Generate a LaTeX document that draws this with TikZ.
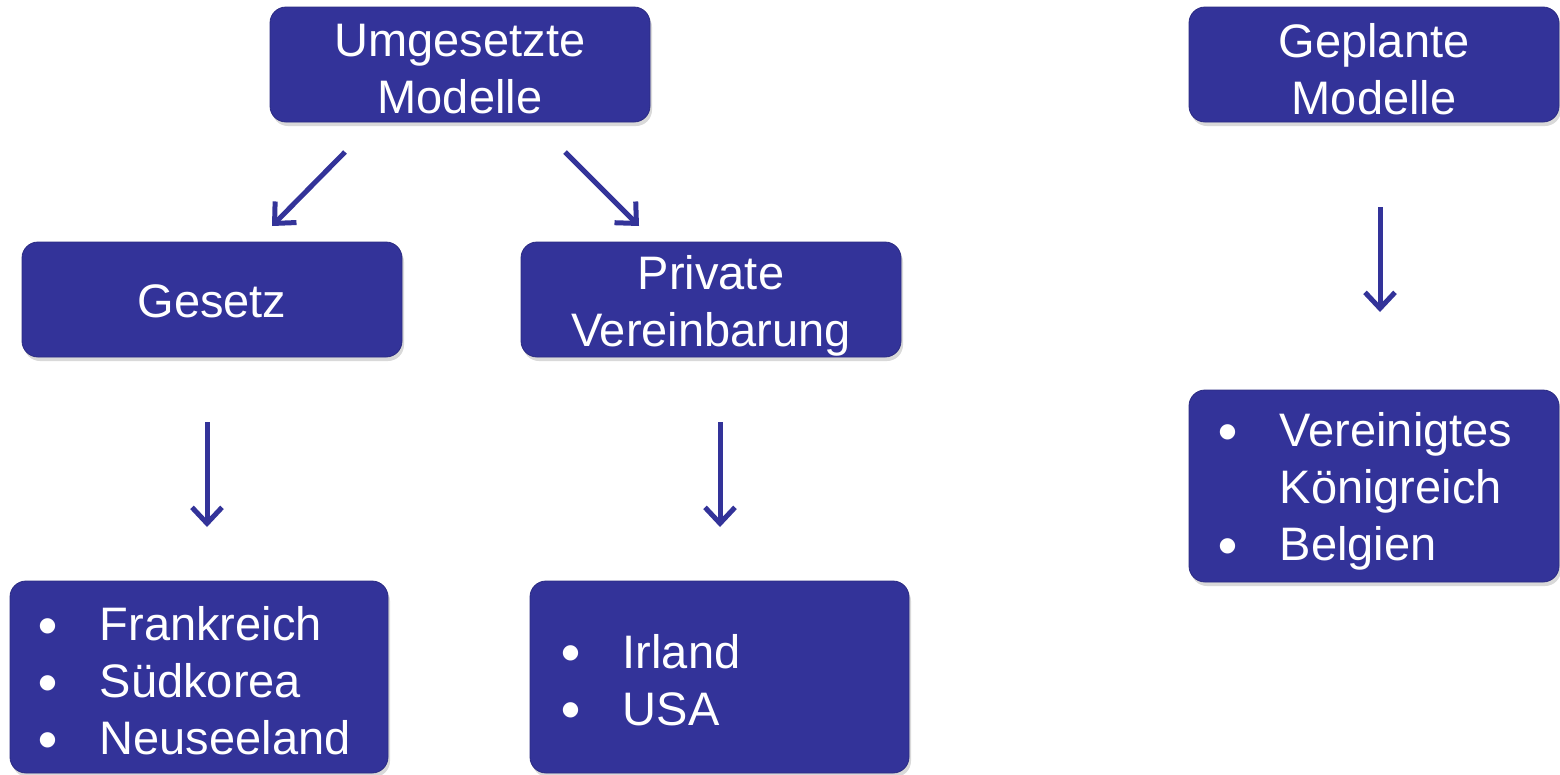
\documentclass[tikz,border=0pt]{standalone}
\usepackage{fontspec}
\setmainfont{Liberation Sans}
\newfontfamily\symf{DejaVu Sans}
\usetikzlibrary{arrows.meta,shadows,calc}
\definecolor{boxblue}{RGB}{51,51,153}
\newcommand{\bul}{\makebox[61pt][l]{\raisebox{9.5pt}{\symf\fontsize{20}{20}\selectfont ●}}}
\begin{document}
\begin{tikzpicture}[x=1pt,y=-1pt,
  box/.style={draw=boxblue!85!black, line width=0.8pt, fill=boxblue, rounded corners=16pt,
    inner sep=0pt,
    drop shadow={opacity=0.3, shadow xshift=2pt, shadow yshift=-4pt}},
  boxtext/.style={text=white, font=\fontsize{47}{57}\selectfont, inner sep=0pt},
  titletext/.style={boxtext, align=center},
  listtext/.style={boxtext, align=left, anchor=west},
  conn/.style={draw=boxblue, line width=5pt, -{Straight Barb[length=16pt,width=30pt]}}]
\useasboundingbox (0,0) rectangle (1560,774);
% boxes
\node[box, minimum width=380pt, minimum height=115pt] (um) at (460,64.5) {};
\node[box, minimum width=370pt, minimum height=115pt] (gep) at (1374,64.5) {};
\node[box, minimum width=380pt, minimum height=115pt] (ges) at (212,299.5) {};
\node[box, minimum width=380pt, minimum height=115pt] (priv) at (711,299.5) {};
\node[box, minimum width=378pt, minimum height=192pt] (fr) at (199,677) {};
\node[box, minimum width=379pt, minimum height=192pt] (ir) at (719.5,677) {};
\node[box, minimum width=370pt, minimum height=192pt] (ver) at (1374,486) {};
% texts
\node[titletext] (umt) at ($(um)+(0,4.5)$) {Umgesetzte\\Modelle};
\node[titletext] (gept) at ($(gep)+(0,4.5)$) {Geplante\\Modelle};
\node[titletext] (gest) at ($(ges)+(0,2)$) {Gesetz};
\node[titletext] (privt) at ($(priv)+(0,6)$) {Private\\Vereinbarung};
\node[listtext, text width=320pt] (frt) at ($(fr.west)+(29,4)$)
  {\bul Frankreich\\\bul Südkorea\\\bul Neuseeland};
\node[listtext, text width=315pt] (irt) at ($(ir.west)+(32,3)$)
  {\bul Irland\\\bul USA};
\node[listtext, text width=310pt] (vert) at ($(ver.west)+(30,5.5)$)
  {\bul Vereinigtes\\\hspace*{61pt}Königreich\\\bul Belgien};
% connector end points
\coordinate (a1s) at (345,152); \coordinate (a1e) at (272,226);
\coordinate (a2s) at (565,152); \coordinate (a2e) at (639,226);
\coordinate (a3s) at (207,422); \coordinate (a3e) at (207,527);
\coordinate (a4s) at (720,422); \coordinate (a4e) at (720,527);
\coordinate (a5s) at (1380,207); \coordinate (a5e) at (1380,312);
\foreach \i in {1,...,5} {\draw[conn] (a\i s) -- (a\i e);}
\end{tikzpicture}
\end{document}
